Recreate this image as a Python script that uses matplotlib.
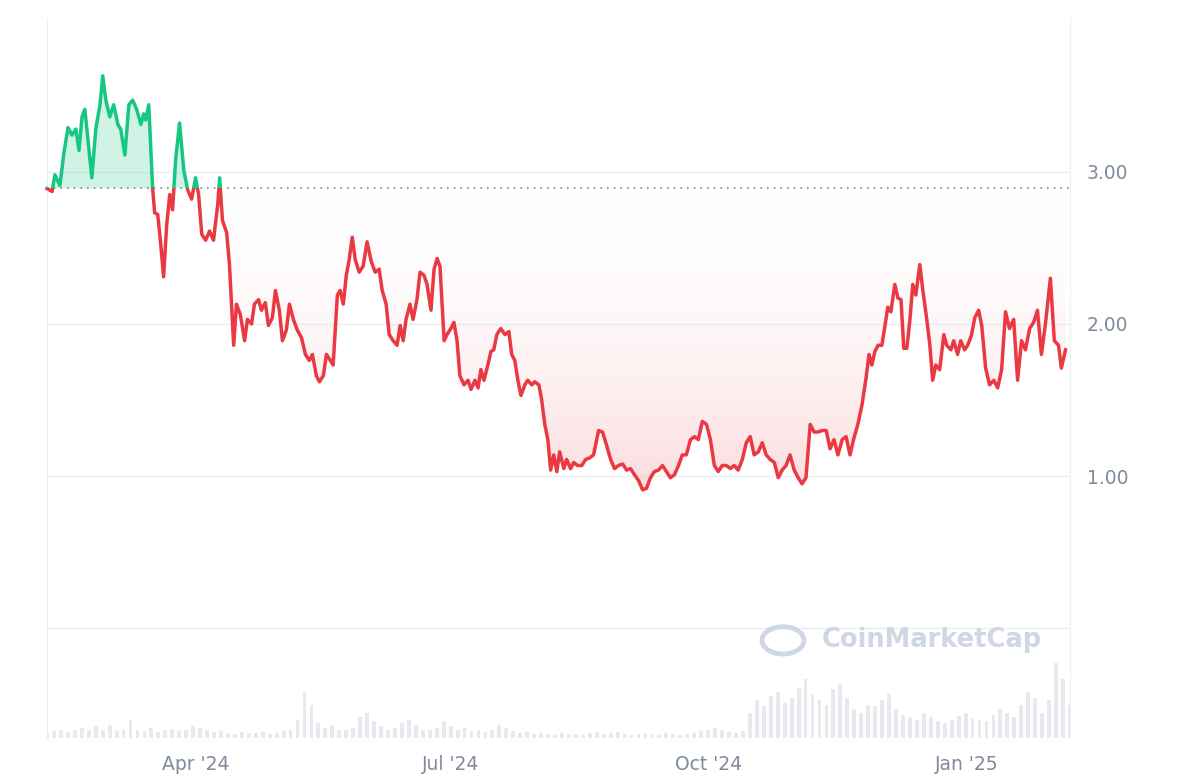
import numpy as np
import pandas as pd
import matplotlib
matplotlib.use("Agg")
import matplotlib.pyplot as plt
import matplotlib.dates as mdates
from matplotlib.patches import Rectangle, Circle
from matplotlib.path import Path

start_date = pd.Timestamp("2024-02-08")
end_date = pd.Timestamp("2025-02-07")
baseline = 2.89
days = [0,1.8,2.8,4.6,6.0,7.5,8.9,10.3,11.4,12.5,13.5,14.6,16.0,17.4,18.9,19.9,21.0,22.4,23.8,25.3,
26.3,27.8,29.2,30.6,32.0,33.5,34.5,35.2,36.3,37.7,38.4,39.5,40.6,41.6,42.7,43.8,44.8,45.9,47.3,48.8,
50.2,51.6,53.0,54.1,55.2,56.6,58.0,59.4,60.9,61.6,62.6,64.1,65.1,66.6,67.6,69.0,70.5,71.5,73.0,74.0,
75.5,76.5,77.9,79.0,80.4,81.5,82.9,84.0,85.4,86.5,87.9,89.3,90.8,92.2,93.6,94.7,96.1,97.2,98.6,99.7,
101.1,102.1,103.6,104.6,105.7,106.8,107.8,108.9,110.0,111.4,112.8,114.2,115.7,117.1,118.5,119.6,121.0,122.1,123.5,124.9,
126.0,127.1,128.1,129.5,130.6,132.0,133.1,134.5,135.6,137.0,138.1,139.2,140.2,141.7,142.7,144.1,145.2,146.3,147.3,148.8,
150.2,151.3,152.7,153.8,154.8,155.9,157.3,158.4,159.4,160.5,161.9,163.4,164.8,165.8,166.9,168.0,169.1,170.5,171.5,173.0,
174.0,175.5,176.5,177.6,178.7,179.7,180.8,181.9,182.9,184.4,185.4,186.8,187.9,189.3,190.8,192.2,193.6,195.0,196.8,198.2,
199.7,201.1,202.5,203.9,205.4,206.8,208.2,209.6,211.1,212.5,213.9,215.3,216.7,218.2,219.6,221.0,222.4,223.9,225.3,226.7,
228.1,229.6,231.0,232.4,233.8,235.3,236.7,238.1,239.5,240.9,242.4,243.8,245.2,246.6,248.1,249.5,250.9,252.3,253.8,255.2,
256.6,258.0,259.5,260.9,262.3,263.7,265.1,266.6,268.0,269.4,270.8,272.3,273.7,275.1,276.5,278.0,279.4,280.8,282.2,283.7,
285.1,286.5,287.9,289.3,290.8,292.2,293.3,294.3,295.4,296.5,297.9,299.0,300.0,301.1,302.5,303.6,304.7,305.7,306.8,307.9,
308.9,310.0,311.4,312.5,313.9,315.0,316.0,317.1,318.5,320.0,321.0,322.5,323.5,324.9,326.0,327.4,328.5,329.9,331.0,332.4,
333.5,334.9,336.3,337.8,339.2,340.6,342.0,343.4,344.9,346.3,347.7,349.1,350.6,352.0,353.4,354.8,356.3,358.0,359.4,360.9,
361.9,363.4]
prices = [2.89,2.87,2.98,2.91,3.12,3.29,3.24,3.28,3.14,3.36,3.41,3.21,2.96,3.28,3.44,3.63,3.47,3.36,3.44,3.31,
3.28,3.11,3.44,3.47,3.41,3.31,3.38,3.34,3.44,2.89,2.73,2.72,2.52,2.31,2.65,2.85,2.75,3.08,3.32,3.01,
2.88,2.82,2.96,2.85,2.59,2.55,2.61,2.55,2.78,2.96,2.68,2.60,2.39,1.86,2.13,2.06,1.89,2.03,2.00,2.13,
2.16,2.09,2.14,1.99,2.04,2.22,2.09,1.89,1.96,2.13,2.03,1.96,1.91,1.80,1.76,1.80,1.66,1.62,1.66,1.80,
1.76,1.73,2.19,2.22,2.13,2.32,2.42,2.57,2.42,2.34,2.38,2.54,2.41,2.34,2.36,2.22,2.13,1.93,1.89,1.86,
1.99,1.89,2.03,2.13,2.03,2.16,2.34,2.32,2.26,2.09,2.36,2.43,2.38,1.89,1.93,1.97,2.01,1.89,1.66,1.60,
1.63,1.57,1.63,1.58,1.70,1.63,1.73,1.82,1.83,1.93,1.97,1.93,1.95,1.80,1.76,1.63,1.53,1.60,1.63,1.60,
1.62,1.60,1.50,1.34,1.24,1.04,1.14,1.03,1.16,1.05,1.11,1.05,1.09,1.07,1.07,1.11,1.12,1.14,1.30,1.29,
1.20,1.11,1.05,1.07,1.08,1.04,1.05,1.01,0.97,0.91,0.92,0.99,1.03,1.04,1.07,1.03,0.99,1.01,1.07,1.14,
1.14,1.24,1.26,1.24,1.36,1.34,1.24,1.07,1.03,1.07,1.07,1.05,1.07,1.04,1.11,1.22,1.26,1.14,1.16,1.22,
1.14,1.11,1.09,0.99,1.04,1.07,1.14,1.04,0.99,0.95,0.99,1.34,1.29,1.29,1.30,1.30,1.18,1.24,1.14,1.24,
1.26,1.14,1.25,1.34,1.47,1.64,1.80,1.73,1.82,1.86,1.86,1.99,2.11,2.08,2.26,2.17,2.16,1.84,1.84,2.03,
2.26,2.19,2.39,2.22,2.03,1.86,1.63,1.73,1.70,1.93,1.86,1.83,1.89,1.80,1.89,1.83,1.86,1.93,2.04,2.09,
1.99,1.71,1.60,1.63,1.58,1.70,2.08,1.97,2.03,1.63,1.89,1.83,1.97,2.01,2.09,1.80,2.01,2.30,1.89,1.86,
1.71,1.83]
volumes = [6,8,9,7,10,12,9,14,10,15,8,9,22,10,8,12,7,9,11,8,10,14,12,9,7,8,6,5,7,6,
6,7,5,6,8,10,22,55,40,18,12,15,10,9,12,25,30,20,14,10,12,18,22,15,10,9,12,20,14,10,
12,8,9,7,10,15,12,8,6,7,5,6,5,4,6,5,5,4,6,7,5,6,7,5,4,5,6,5,4,6,
5,4,5,6,8,10,12,9,7,6,8,30,45,38,50,55,42,48,60,70,52,45,40,58,65,48,35,30,40,38,
45,52,35,28,25,22,30,25,20,18,22,26,30,24,22,20,28,35,30,25,40,55,48,30,45,90,70,40]
vol_scale = 0.0055
vol_bottom = -0.72

n = min(len(days), len(prices))
dates = start_date + pd.to_timedelta(np.array(days[:n]), unit="D")
vdates = pd.date_range(start_date, end_date, periods=len(volumes))
x = mdates.date2num(dates)
vx = mdates.date2num(vdates)
y = np.array(prices[:n])
x0, x1 = mdates.date2num(start_date), mdates.date2num(end_date)

GREEN = "#16c784"; RED = "#ea3943"
fig = plt.figure(figsize=(12, 7.8), dpi=100)
ax = fig.add_axes([47/1200, 1-738/780, 1023/1200, 720/780])
ax.set_xlim(x0, x1)
ax.set_ylim(vol_bottom, 4.01)

w = (vx[1]-vx[0])*0.55
ax.bar(vx, np.array(volumes)*vol_scale, bottom=vol_bottom, width=w, color="#e6e9ed", zorder=1)

ax.fill_between(x, y, baseline, where=y >= baseline, interpolate=True, color=GREEN, alpha=0.2, lw=0, zorder=2)
poly = ax.fill_between(x, y, baseline, where=y <= baseline, interpolate=True, color="none", lw=0, zorder=2)
grad = np.linspace(0.42, 0.03, 256).reshape(-1, 1)
cmap = matplotlib.colors.LinearSegmentedColormap.from_list("r", [(1,1,1,0), (0.92,0.22,0.26,1)])
im = ax.imshow(grad, extent=[x0, x1, 0.9, baseline], origin="lower", aspect="auto",
               cmap=cmap, vmin=0, vmax=1, zorder=2)
paths = poly.get_paths()
if paths:
    verts = np.concatenate([p.vertices for p in paths])
    codes = np.concatenate([p.codes if p.codes is not None else np.full(len(p.vertices), Path.LINETO) for p in paths])
    im.set_clip_path(Path(verts, codes), transform=ax.transData)

lg, = ax.plot(x, y, color=GREEN, lw=2.5, zorder=4, solid_joinstyle="round")
lr, = ax.plot(x, y, color=RED, lw=2.5, zorder=4, solid_joinstyle="round")
lg.set_clip_path(Rectangle((x0-5, baseline), x1-x0+10, 5, transform=ax.transData))
lr.set_clip_path(Rectangle((x0-5, -1), x1-x0+10, baseline+1, transform=ax.transData))
ax.axhline(baseline, color="#888888", lw=1.2, ls=(0, (1, 3)), zorder=3)

for v in [0, 1, 2, 3]:
    ax.axhline(v, color="#eceff2", lw=1, zorder=0)

ax.set_yticks([1, 2, 3])
ax.yaxis.tick_right()
ax.yaxis.set_major_formatter(matplotlib.ticker.FormatStrFormatter("%.2f"))
ax.xaxis.set_major_locator(mdates.MonthLocator(bymonth=[1, 4, 7, 10]))
ax.xaxis.set_major_formatter(mdates.DateFormatter("%b '%y"))
ax.tick_params(length=0, labelsize=13.5, colors="#808a9d", pad=12)
ax.tick_params(axis="y", pad=12)
for s in ["top", "bottom"]:
    ax.spines[s].set_visible(False)
for s in ["left", "right"]:
    ax.spines[s].set_color("#eceff2")

fig.text(0.685, 0.179, "CoinMarketCap", fontsize=18.5, fontweight="bold", color="#cfd6e4",
         va="center", zorder=5)
fig.patches.append(Circle((0.6525, 0.179), 0.0175, transform=fig.transFigure, fill=False,
                          ec="#cfd6e4", lw=3.5))

fig.savefig("out.png", dpi=100, facecolor="white")
